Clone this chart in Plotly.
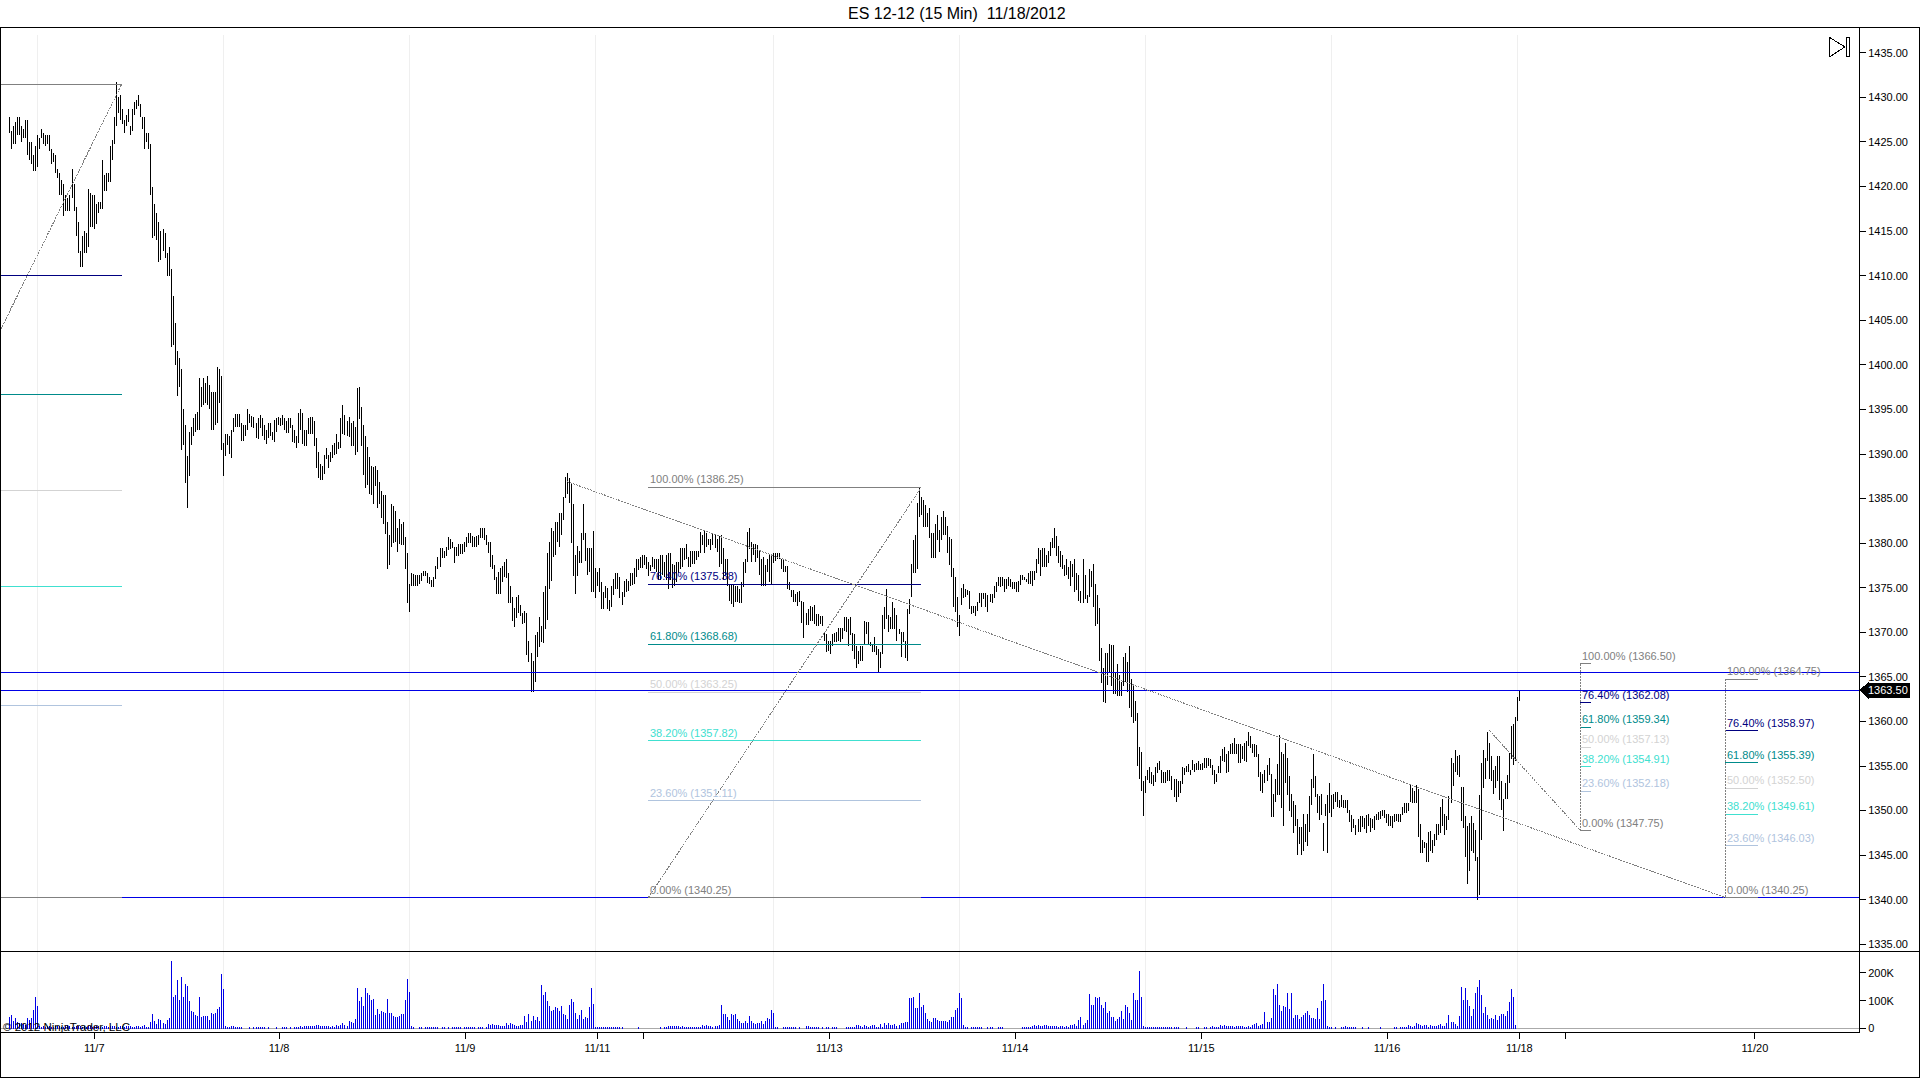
import plotly.graph_objects as go

TITLE = "ES 12-12 (15 Min)\u00a0\u00a011/18/2012"

# bar highs and lows in five stretches
HIGH_A = [1427.75,1426.25,1426.75,1427.25,1427.75,1427.75,1426.75,1426.5,1427.5,1427.5,1425,1425,1423.5,1424.5,1425.75,1425.5,1426.5,1426,1425.75,1425.75,
1425.75,1424.25,1423.75,1423.5,1422,1421.5,1420.75,1420.25,1419,1418.75,1419,1422,1420.25,1417.75,1416,1412.75,1414.5,1415,1414.75,1419.75,
1419.25,1419,1419,1418,1418.25,1418.25,1423,1421.25,1421.5,1421.5,1424.5,1425.25,1427.75,1431.75,1430,1430.25,1428.75,1427.5,1428,1428.75,
1426.75,1428.75,1429.5,1429.75,1430.25,1429.25,1427.75,1427.75,1426,1426,1424.75,1420,1418,1417,1416,1415,1415.25,1414.75,1412.5,
1413.25,1410.75,1407.75,1404.75,1401.5,1400.75,1399.5,1395,1393.25,1389.75,1392.5,1393,1394,1394.5,1394.75,1398.5,1397.5,1398.5,1398,1398.75,
1397.75,1397,1397,1397,1399.75,1399.5,1398.75,1391.25,1392.25,1392.25,1392,1392.75,1394,1394.5,1394.5,1394.5,1393.5,1393.25,1393.25,1395,
1394.5,1394.25,1394.2,1393.45,1394,1394.4,1394,1393.25,1392.7,1393.45,1393.45,1392.5,1393.85,1394,1394.2,1394,1394.4,1394,1393.65,1394,
1394,1393.25,1392.7,1392,1394.6,1395,1394.6,1392.7,1392.7,1394]
LOW_A = [1426,1424.25,1424.75,1424.75,1425.75,1425.75,1425,1425.5,1425.5,1423.5,1423,1422.5,1421.75,1421.75,1422.25,1424.25,1425.5,1424.75,1424.5,1424.75,
1424,1422.5,1422.75,1421.5,1421,1419,1419,1416.75,1417.25,1417.25,1417.25,1418.75,1417.25,1414.5,1412.5,1411,1411,1412.5,1412.5,1413.25,
1415.5,1415.5,1415.25,1415.75,1417,1417.5,1417.5,1419.5,1419.5,1420.5,1420.5,1423,1424.75,1426.75,1428.25,1427.5,1427,1426,1426.75,1427.25,
1425.75,1426.25,1428,1428.75,1429,1427.75,1426.5,1424.25,1425,1424.25,1419,1414.25,1414.5,1414,1411.5,1411.75,1412.75,1412,1410,
1410,1402,1402.25,1400,1396.5,1397.5,1390.5,1391,1386.75,1384,1387.5,1391,1392,1392.5,1392.75,1392.75,1395.25,1395.5,1395.75,1395.5,
1395,1392.75,1392.75,1393.25,1393.5,1395.75,1390.5,1387.5,1389.75,1391,1390,1389.5,1392.5,1393,1393,1393,1391.5,1391.5,1392,1392.75,
1393.5,1393,1392.95,1391.85,1391.65,1392.9,1392,1391.6,1391.1,1391.8,1392,1391.6,1391.3,1392.5,1393.25,1393.1,1393.2,1392.7,1392.35,1392.35,
1392.9,1391.4,1391.2,1390.65,1391.2,1392.7,1391.1,1390.85,1390.85,1392.2]

HIGH_B = [1394.2,1394.2,1393.7,1391.8,1390.2,1388.9,1388.7,1389.9,1390.7,1389.9,1390.2,1391,1391.2,1392.2,1391.4,1394,1395.45,1394.4,1393.65,1394.2,
1393.5,1393.65,1393,1397.35,1397.5,1395.25,1393.2,1392,1390.75,1389.7,1388.7,1388.5,1388.7,1388.25,1386.9,1385.8,1385.35,1385.4,1382.4,1380.9,
1384.4,1384.2,1383.65,1381.7,1382.75,1382.2,1382.4,1380.7,1378.9,1375.4,1376.65,1376.5,1376.4,1376.4,1376.4,1376.65,1376.9,1376.9,1376.65,1376.2,1375.9,
1376.2,1377.45,1378.45,1379.45,1379.45,1379.15,1379.6,1380.7,1380.45,1380.15,1379.6,1379.6,1379.9,1379.9,1379.9,1380.15,1380.7,1381.15,1381.15,1380.8,
1380.7,1380.8,1380.9,1381.7,1381.7,1381.7,1380.9,1380.15,1380.15,1378.65,1377.5,1376.2,1376.75,1377.2,1377.45,1377.9,1378.2,1376.65,1375.2,1374,
1372.7,1374,1374.15,1373.1,1372.2,1372.4,1372.2,1369.05,1367.65,1366.8,1369.65,1370,1371.7,1370.7,1374.5,1375.2,1378.9,1380.15,1381.7,1381.4,
1382.4,1382.4,1383.4,1383.4,1385.2,1387.45,1387.9,1387.35,1386.65,1384.4,1378.7,1379.7,1379.1,1381.15,1384.4,1381.15,1379.45,1379.45,1379.45,1381.4,
1377.2,1376.75,1377.2,1375.65,1374.5,1375.2,1375,1373.6,1375.2,1375.95,1376.6,1376.6,1376.2]
LOW_B = [1392.2,1392.2,1390.85,1388.4,1387.35,1387.1,1387.1,1387.8,1389.45,1388.4,1389.1,1389.6,1389.9,1390.05,1390.6,1390.65,1392.3,1392.15,1392.05,1391.95,
1390.85,1390.85,1389.9,1390.2,1393.9,1390.85,1387.6,1386.15,1386.5,1385.55,1385.35,1384.35,1386.45,1383.9,1384.35,1382.85,1382.1,1381.05,1377.15,1377.6,
1379.6,1380,1380.15,1379,1379.9,1379.8,1379.8,1377.15,1373.3,1372.25,1375.25,1375.25,1375.25,1375.25,1375.4,1375.8,1376.3,1376.3,1375.55,1375.4,1375.1,
1375.1,1375.95,1377.15,1377.35,1378.35,1378.35,1378.6,1379.2,1379.4,1379.5,1377.8,1378.6,1378.6,1378.8,1378.8,1379,1379.6,1380.05,1380.05,1379.6,
1379.6,1379.6,1379.85,1380.6,1380.6,1380.35,1379.85,1378.85,1377.35,1377.05,1375.85,1374.35,1374.35,1374.35,1375.65,1376.2,1376.1,1373.3,1373.3,1371.25,
1370.6,1371.6,1372.2,1371.8,1370.95,1371.05,1367.4,1366.7,1363.35,1363.35,1364.4,1367.2,1368.3,1368.9,1368.8,1370.4,1371.35,1374.9,1375.8,1378.45,
1378.65,1380.15,1379.6,1380.9,1382.65,1385.1,1385.5,1384.55,1380.05,1376.3,1374.35,1376.3,1377.8,1377.8,1380.35,1378.05,1376.4,1376.75,1374.5,1374.5,
1373.85,1375.25,1374.5,1372.6,1372.6,1373.85,1372.6,1372.35,1372.85,1374.2,1374.9,1374.9,1373.85]

HIGH_C = [1374.5,1375.75,1375.95,1375.8,1376.6,1376.7,1377.2,1378.2,1378.2,1378.45,1378.65,1378.65,1378.45,1377.9,1377.5,1378.45,1378.2,1378.25,1378.2,1378.7,
1378.7,1377.9,1378.7,1378.95,1378.85,1377.7,1377.6,1377.9,1377.9,1379.45,1379.45,1379.5,1379.95,1378.45,1379.15,1379.15,1379.15,1379.15,1379.15,1381.2,
1380.95,1381.35,1381.1,1380.45,1380.5,1381.1,1380.95,1380.5,1380.8,1380.95,1379.45,1378.25,1378.2,1375.45,1375.35,1375.35,1375.25,1375.25,1374.9,1375.65,
1377.9,1378.2,1381.25,1381.7,1380.15,1379.95,1379.95,1379.75,1379.15,1378.2,1378.45,1377.5,1378.2,1378.65,1378.65,1378.85,1378.95,1378.95,1378.9,1378.25,
1378.2,1377.45,1377.45,1375.65,1374.7,1374.7,1374.3,1374.5,1374.6,1373.55,1373.45,1372.2,1372.65,1373,1372.8,1373.1,1372.05,1372.05,1371.8,1371.8,
1369.95,1369.8,1369.05,1369.05,1369.8,1369.95,1370,1370.45,1370.45,1370.45,1371.7,1371.7,1371.5,1371.7,1369.95,1369.8,1368.5,1367.95,1368.5,1368.5,
1371.3,1371.2,1371.15,1368.9,1368.7,1369.45,1368.5,1368.15,1367.75,1371.9,1372.8,1374.9,1371.9,1371.7,1373.4,1372.7,1371.9,1370.4,1370,1370,
1369.05,1372.65,1373.75,1377.7,1380.3,1380.9,1384.45,1386.15,1385.2,1384.85,1384.25,1383.35,1383.9]
LOW_C = [1373.1,1373.95,1374.5,1374.6,1375.25,1375.35,1375.45,1376.2,1376.95,1377.2,1377.2,1377.5,1377.05,1376.3,1376.85,1377.35,1377.15,1376.75,1375.85,1375.85,
1376.4,1376.2,1375.85,1374.9,1375.85,1375,1375.2,1375.65,1376.6,1377.05,1377.35,1378.1,1378.2,1377.35,1377.35,1377.7,1377.7,1378.1,1378.45,1378.95,
1379.75,1378.85,1379.6,1379.75,1379.2,1379.85,1379.45,1379,1377.35,1377.7,1375.85,1376.4,1375.2,1373.55,1373.2,1372.8,1373.4,1373.4,1373.3,1373.3,
1375.1,1376.7,1377.9,1379.4,1377.9,1378.7,1377.9,1378.35,1376.4,1375.25,1375.25,1375.25,1376.75,1375.65,1375.45,1377.8,1377.95,1378.2,1378.2,1377.05,
1376.75,1376.75,1374.9,1374.8,1373.95,1373.45,1373.45,1373,1373.45,1371.05,1369.35,1370.85,1370.85,1371.3,1371.3,1370.95,1370.75,1370.7,1370.95,1370.7,
1369.05,1367.75,1367.95,1367.55,1368.5,1368.9,1368.9,1369.05,1368.9,1369.25,1370.2,1370,1368.5,1369.65,1367.95,1367,1366.05,1366.45,1366.8,1366.8,
1368.6,1369.8,1368.6,1368.5,1367.75,1367.75,1367.4,1365.5,1366.05,1367.55,1370.4,1371.5,1370,1370.4,1370.4,1370.4,1369.05,1369.8,1367.2,1368.9,
1367.1,1366.75,1372.05,1373.95,1376.6,1376.6,1377.05,1382.95,1383.15,1381.85,1381.85,1381.85,1380.6]

HIGH_D = [1381.15,1381.15,1382.2,1383.2,1381.45,1382.95,1383.65,1382.95,1381.95,1380.7,1380.5,1377.2,1376.2,1373.95,1371.9,1375,1375.4,1374.9,1374.7,1374.6,
1372.95,1372.95,1372.95,1373.4,1374.4,1374.4,1374.4,1374.4,1374.15,1374.3,1374.3,1375.2,1375.65,1376.2,1376.2,1376.2,1375.95,1376,1376.2,
1375.95,1375.65,1375.65,1375.65,1375.7,1376.4,1376.4,1376.2,1376,1376.7,1376.85,1376.85,1376.85,1378.2,1379.45,1379.2,1379.45,1379.45,1378.7,1379.15,
1380.15,1380.6,1381.7,1380.8,1379.65,1379.15,1378.65,1377.6,1378.2,1377.35,1377.95,1377.7,1378.2,1376.6,1376.4,1374.6,1378.2,1376.4,1374.15,1377.15,
1376.85,1377.7,1375.45,1374.15,1372.7,1368.2,1365.95,1367.7,1367.65,1368.7,1368.6,1368.6,1365.6,1366.45,1365.2,1364.4,1367.2,1367.7,1366.65,1368.45,
1364.75,1364,1362.3,1360.9,1357.15,1356.6,1353.3,1353.85,1354.55,1354.9,1354.3,1354.05,1354.9,1355.35,1355.55,1354.55,1354.3,1354.3,1354.6,1354.55,
1353.85,1353.55,1353.55,1353.3,1353.3,1354.9,1354.8,1355.05,1355.2,1354.6,1355.65,1355.2,1355.35,1355.55,1355.2,1355.35,1355.95,1355.95,1355.95,1355.75,
1355.15,1354.6,1354.1,1355.05,1356.1,1356.95,1357.15,1356.4,1356.7,1357.45,1357.6,1358.2,1357.45,1357.45,1357.45]
LOW_D = [1378.35,1378.35,1378.35,1380.35,1379,1380.35,1380.95,1380.9,1378.85,1377.6,1376.2,1372.8,1372.25,1370.55,1369.55,1373.1,1373.85,1373.95,1374.15,1372.65,
1372.05,1372.2,1371.8,1372.35,1373.3,1372.8,1373.75,1372.8,1372.25,1373.45,1373.3,1373.85,1374.5,1375.25,1375.1,1375.2,1374.5,1374.9,1375.2,
1375.1,1374.9,1374.9,1374.5,1374.5,1375.35,1375.85,1375.85,1375.65,1375.45,1375.45,1375.25,1375.85,1376.7,1377.7,1376.3,1377.35,1377.35,1377.35,1377.8,
1378.55,1379.45,1379.45,1378.55,1377.8,1377.35,1377.05,1376.3,1376.4,1376,1375.25,1376.2,1374.5,1374.8,1373.55,1373.3,1373.3,1373.75,1373.3,1373.95,
1375.1,1372.8,1370.75,1370.95,1366.75,1364.3,1362.2,1362.05,1364.05,1365.5,1364,1363.05,1363.05,1362.9,1362.9,1362.9,1364,1364.4,1363.3,1361.55,
1360.55,1359.8,1360.05,1355.05,1353.5,1352.15,1349.35,1352,1353.4,1353.1,1352.95,1352.8,1353.2,1354.25,1354.55,1353.1,1353.05,1353.1,1353.3,1353.3,
1352.3,1351.55,1351,1351.55,1352,1353,1354.05,1354.3,1354.3,1353.95,1354.6,1354.3,1354.6,1354.55,1354.55,1354.55,1354.8,1354.8,1355,1354.8,
1354.05,1353,1353.25,1354.25,1354.25,1355.55,1355.45,1354.25,1354.3,1356.3,1356.3,1356.3,1356.3,1355.3,1355.3]

HIGH_E = [1357.2,1357.6,1357.8,1358.85,1358.4,1357.45,1357.45,1357.35,1356.3,1354.35,1354.15,1354.6,1355.1,1355.95,1354.15,1351.9,1353.55,1355.2,1358.45,
1356.6,1356.4,1357.6,1355.95,1353.9,1351.9,1351.05,1350.6,1349.05,1348.15,1348.2,1349.65,1348.45,1349.65,1351.6,1353.55,1356.4,1353.85,1351.9,1351.6,
1351.9,1348.6,1350.7,1351.7,1353.1,1351.8,1351.9,1352.1,1352.1,1351.15,1351.7,1351.15,1351.15,1351.15,1350.1,1349.55,1349.05,1348.4,1349.05,1349.35,
1349.45,1349.15,1349.55,1349.65,1349.15,1349.05,1349.35,1349.65,1349.8,1349.95,1350.1,1350.1,1349.65,1349.65,1349.35,1349.45,1349.65,1349.65,
1349.65,1349.65,1350.4,1350.85,1350.85,1350.85,1352.95,1352.55,1352.2,1352.85,1352.45,1348.45,1346.65,1346.45,1346.35,1347.65,1347.75,1346.75,1347.4,1348.45,
1348.45,1350.4,1351.3,1349.65,1349.35,1351.6,1355.95,1355.35,1356.8,1356.15,1356.2,1352.65,1352.65,1349.35,1348.25,1348.6,1349.35,1348.6,1347.85,1344.85,
1351.8,1355.35,1356.8,1355.95,1358.8,1357.6,1356.15,1354.55,1354.95,1356.15,1356.15,1353.3,1351.3,1353.1,1354.05,1356.5,1359.5,1359.7,1360.45,1362.7,1363.5]
LOW_E = [1355.75,1355.55,1355.5,1357.2,1357.05,1356.5,1356.05,1356.05,1353.8,1352.2,1352,1353.05,1353.3,1354.05,1349.3,1349.3,1350.95,1351.8,1351.8,
1350.3,1348.3,1353.1,1351.8,1350,1349.3,1347.5,1348.25,1345.05,1346.25,1345,1345.5,1346.45,1346.05,1347.65,1350.6,1352.5,1351.55,1349.75,1348.9,
1349.55,1345.5,1349.35,1345.25,1349.75,1349.3,1350.2,1350.95,1350.4,1350.3,1350.4,1350.3,1350.3,1349.75,1348.7,1347.65,1348.05,1347.3,1347.65,1347.65,
1348.15,1347.95,1347.5,1348.25,1347.55,1348.05,1347.85,1349,1348.9,1349.05,1349.35,1349.15,1348.6,1348.3,1348.25,1348.05,1348.7,1348.8,
1348.75,1348.75,1349.55,1349.75,1349.75,1349.95,1350.95,1350.85,1350.8,1350.8,1347.05,1345.25,1345.25,1345.8,1344.2,1344.2,1345.45,1345.25,1346.05,1346.75,
1347.3,1347.5,1348.3,1347.3,1347.85,1348.9,1350.85,1352.8,1354.3,1353.95,1353.8,1348.8,1348.1,1344.85,1341.8,1343.2,1345.45,1345.25,1344.3,1340,
1340.55,1346.75,1352.55,1353.5,1355.55,1353.5,1353.3,1351.9,1352.55,1353.3,1351.15,1350.05,1347.75,1351.25,1351.3,1353.1,1355.75,1355.15,1355.55,1360.05,1362.3]

# volume in thousands, session by session
VOLUME_A = [41,48,27,38,24,20,20,16,13,38,31,38,66,115,80,8,6,9,7,10,8,6,7,9,11,8,7,6,8,12,9,7,6,8,10,9,7,8,6,9,8,7,9,10,8,6,7,9,8,7,8,9,8,6,7,8,9,7,8,9,8,7,6,8,9,7,8,
14,6,7,24,52,27,16,34,31,20,16,31,38,242,112,122,175,101,186,115,161,154,98,62,59,48,45,115,41,45,45,45,31,55,52,55,69,76,196,143,9,5,6,8,9,5,5,5,5,0,0,0,5,0,5,5,5,5,5,5,0,5,0,0,0,5,0,0,5,5,5,0,5,0,5,5,6,8,5,11,11,9,9,8,8,14,13,11,10,9,9,9,6,9,6,12,9,12,20,12,9,26,23,20,34,
147,98,112,80,147,129,119,101,105,48,69,52,62,59,55,105,55,55,45,41,41,45,52,52,101,179,133,9,5,0,0,5,5,0,5,5,5,5,5,5,5,0,5,5,0,5,0,5,5,5,5,5,0,5,5,5,5,5,5,0,5,5,5,0,5,16,13,16,13,13]
VOLUME_B = [12,8,8,8,19,13,19,15,12,9,9,12,12,45,24,52,27,45,31,41,27,158,122,133,98,80,62,66,76,73,62,80,52,48,34,83,105,94,55,34,48,66,34,41,38,76,147,87,5,5,5,5,5,5,5,5,5,5,5,5,5,5,
0,0,0,0,0,0,0,5,0,0,0,0,0,0,0,0,0,0,5,0,5,5,8,8,8,10,8,8,5,8,5,5,5,5,5,5,5,5,5,12,8,12,8,8,5,8,8,12,83,52,52,41,31,52,48,52,36,26,20,19,26,19,45,26,20,15,19,19,26,15,26,38,36,66,55,5,5,0,0,5,5,5,5,5,5,5,0,5,0,0,9,9,5,5,5,5,5,0,5,0,5,5,0,5,5,5,0,0,0,0,5,5,5,5,5,12,12,9,5,12,9,5,9,12,12,5,5,15,5,20,14,19,12,12,15,8,12,20,20,23,23,
108,108,115,73,73,126,76,83,55,34,26,23,38,38,31,26,26,26,26,23,31,40,40,66,73,129,108,12,5,5,0,5,5,5,5,5,5,0,0,5,5,5,0,0,5,5,5,0,0,0,0,0,0,0,0,0]
VOLUME_C = [5,5,5,5,5,9,12,8,12,9,9,12,12,8,8,8,8,8,5,8,8,5,8,5,12,12,15,8,31,41,13,19,31,123,83,83,115,108,115,83,73,94,55,62,41,41,26,34,41,62,34,83,76,55,31,126,101,101,207,115,9,5,5,5,5,5,5,5,5,5,5,5,5,5,5,5,5,5,
0,0,0,5,0,0,0,0,5,5,0,0,5,5,0,5,8,5,5,5,12,9,12,9,9,9,9,5,8,8,8,8,5,5,8,5,12,15,19,9,12,15,58,23,23,38,143,122,161,83,62,80,76,126,69,129,38,48,48,34,41,48,55,62,48,38,38,34,73,34,98,161,101,9,5,5,0,5,0,0,5,5,9,5,5,5,5,5,0,0,5,0,0,5,0,0,0,0,0,5,0,0,0,0,0,0,5,5,0,5,5,5,5,12,8,5,8,20,15,12,9,12,12,5,12,8,8,8,12,15,9,8,20,48,23,23,15,9,45,150,101,147,101,80,45,69,126,150,175,122,55,76,48,34,38,34,48,31,45,52,52,45,62,94,143,113,12]

PRICE_TICKS = [1335,1340,1345,1350,1355,1360,1365,1370,1375,1380,1385,1390,1395,1400,1405,1410,1415,1420,1425,1430,1435]
VOLUME_TICKS = [0,100,200]
VOLUME_TICK_TEXT = ["0","100K","200K"]

DATE_TICK_BARS = [42,133.4,225.4,290.8,313.5,405.5,497.4,589.5,681.4,746.8,769.8,863.3]
DATE_TICK_TEXT = ["11/7","11/8","11/9","11/11","","11/13","11/14","11/15","11/16","11/18","","11/20"]
SESSION_BREAKS = [14,106,198,290,378,470,562,654,746]

# blue price lines across the chart
LEVEL_LINES = [1365.5,1363.5,1340.25]
LAST_PRICE = 1363.5

FIB_NAMES = ["100.00%","76.40%","61.80%","50.00%","38.20%","23.60%","0.00%"]
FIB_COLORS = ["#808080","#000080","#008b8b","#d3d3d3","#40e0d0","#b0c4de","#808080"]
FIB_A = [1431.5,1409.97,1396.64,1385.88,1375.11,1361.79,1340.25]
FIB_B = [1386.25,1375.38,1368.68,1363.25,1357.82,1351.11,1340.25]
FIB_C = [1366.5,1362.08,1359.34,1357.13,1354.91,1352.18,1347.75]
FIB_D = [1364.75,1358.97,1355.39,1352.50,1349.61,1346.03,1340.25]
FIB_SPANS = [(-4.2,55.6),(316,451),(777,782.2),(848.5,865)]

# dashed trend lines, (bar, price) ends
TREND_LINES = [((-4.2,1404),(55.6,1431.5)),
               ((276,1386.9),(848.5,1340.25)),
               ((316,1340.25),(451,1386.25)),
               ((732,1359),(777,1347.75))]


def px_x(p):
    return p/1920

def px_y(p):
    return 1-p/1079

def stems(xs, bottoms, tops):
    out_x, out_y = [], []
    for x, b, t in zip(xs, bottoms, tops):
        out_x += [x, x, None]
        out_y += [b, t, None]
    return out_x, out_y


highs = HIGH_A+HIGH_B+HIGH_C+HIGH_D+HIGH_E
lows = LOW_A+LOW_B+LOW_C+LOW_D+LOW_E
assert len(highs) == len(lows), (len(HIGH_A),len(LOW_A),len(HIGH_B),len(LOW_B),len(HIGH_C),len(LOW_C),len(HIGH_D),len(LOW_D),len(HIGH_E),len(LOW_E))
volume = VOLUME_A+VOLUME_B+VOLUME_C
bars = list(range(len(highs)))

fig = go.Figure()

# price bars first, lines go over them
bx, by = stems(bars, lows, highs)
fig.add_trace(go.Scatter(x=bx, y=by, mode="lines", line=dict(color="#000000", width=1), hoverinfo="skip"))

vx, vy = stems(list(range(len(volume))), [0]*len(volume), volume)
fig.add_trace(go.Scatter(x=vx, y=vy, mode="lines", line=dict(color="#0000e6", width=1), hoverinfo="skip", xaxis="x2", yaxis="y2"))

x_range = [(1-9.33)/2.022, (1859-9.33)/2.022]
for lvl in LEVEL_LINES:
    fig.add_trace(go.Scatter(x=x_range, y=[lvl, lvl], mode="lines", line=dict(color="#0000e6", width=1), hoverinfo="skip"))

for prices, span in zip([FIB_A, FIB_B, FIB_C, FIB_D], FIB_SPANS):
    for price, color in zip(prices, FIB_COLORS):
        fig.add_trace(go.Scatter(x=list(span), y=[price, price], mode="lines", line=dict(color=color, width=1), hoverinfo="skip"))

for start, end in TREND_LINES:
    fig.add_trace(go.Scatter(x=[start[0], end[0]], y=[start[1], end[1]], mode="lines",
                             line=dict(color="#808080", width=1, dash="2px,1px"), hoverinfo="skip"))

# uprights of the two right hand fibs
for prices, span in [(FIB_C, FIB_SPANS[2]), (FIB_D, FIB_SPANS[3])]:
    fig.add_trace(go.Scatter(x=[span[0], span[0]], y=[prices[0], prices[-1]], mode="lines",
                             line=dict(color="#808080", width=1, dash="2px,1px"), hoverinfo="skip"))

annotations = []
for prices, span in [(FIB_B, FIB_SPANS[1]), (FIB_C, FIB_SPANS[2]), (FIB_D, FIB_SPANS[3])]:
    for name, price, color in zip(FIB_NAMES, prices, FIB_COLORS):
        annotations.append(dict(x=span[0], y=price, xref="x", yref="y", text=f"{name} ({price:.2f})",
                                showarrow=False, xanchor="left", yanchor="bottom", font=dict(color=color, size=11)))

annotations.append(dict(x=px_x(957), y=px_y(13.5), xref="paper", yref="paper", text=TITLE, showarrow=False,
                        xanchor="center", yanchor="middle", font=dict(size=16, color="#000000")))
annotations.append(dict(x=px_x(1), y=px_y(1029), xref="paper", yref="paper", text="\u00a9 2012 NinjaTrader, LLC",
                        showarrow=False, xanchor="left", yanchor="middle", font=dict(size=11.5, color="#000000")))
annotations.append(dict(x=px_x(1888), y=LAST_PRICE, xref="paper", yref="y", text=f"{LAST_PRICE:.2f}", showarrow=False,
                        xanchor="center", yanchor="middle", bgcolor="#000000", font=dict(size=11, color="#ffffff"), borderpad=1))

shapes = []
for b in SESSION_BREAKS:
    shapes.append(dict(type="line", xref="x", yref="paper", x0=b, x1=b, y0=px_y(1031), y1=px_y(35),
                       line=dict(color="#efefef", width=1), layer="below"))
# frame and the pane divider
shapes.append(dict(type="rect", xref="paper", yref="paper", x0=px_x(0.5), x1=px_x(1919.5), y0=px_y(1079.5), y1=px_y(27.5),
                   line=dict(color="#000000", width=1)))
shapes.append(dict(type="line", xref="paper", yref="paper", x0=px_x(0.5), x1=px_x(1919.5), y0=px_y(953.5), y1=px_y(953.5),
                   line=dict(color="#000000", width=1)))
# go-to-end button
shapes.append(dict(type="path", xref="paper", yref="paper",
                   path=f"M {px_x(1829.5)},{px_y(37.5)} L {px_x(1845)},{px_y(47)} L {px_x(1829.5)},{px_y(57)} Z",
                   line=dict(color="#000000", width=1)))
shapes.append(dict(type="rect", xref="paper", yref="paper", x0=px_x(1846.5), x1=px_x(1849.5), y0=px_y(57), y1=px_y(37.5),
                   line=dict(color="#000000", width=1)))
# point of the last price tag
shapes.append(dict(type="path", xref="paper", yref="y",
                   path=f"M {px_x(1860)},{LAST_PRICE} L {px_x(1868)},{LAST_PRICE+0.8} L {px_x(1868)},{LAST_PRICE-0.8} Z",
                   fillcolor="#000000", line=dict(color="#000000", width=1)))

fig.update_layout(
    width=1920, height=1079, autosize=False,
    margin=dict(l=0, r=0, t=0, b=0),
    paper_bgcolor="#ffffff", plot_bgcolor="#ffffff",
    showlegend=False, hovermode=False,
    font=dict(family="Liberation Sans", size=11, color="#000000"),
    xaxis=dict(domain=[px_x(1), px_x(1859)], range=x_range, showticklabels=False, showgrid=False, zeroline=False, ticks=""),
    yaxis=dict(domain=[px_y(953.5), px_y(27.5)], range=[1334.17, 1437.85], side="right", anchor="x",
               tickmode="array", tickvals=PRICE_TICKS, ticktext=[f"{t:.2f}" for t in PRICE_TICKS],
               showline=True, linecolor="#000000", linewidth=1, ticks="outside", ticklen=6, tickcolor="#000000",
               showgrid=False, zeroline=False),
    xaxis2=dict(domain=[px_x(1), px_x(1859)], range=x_range, anchor="y2",
                tickmode="array", tickvals=DATE_TICK_BARS, ticktext=DATE_TICK_TEXT,
                showline=True, linecolor="#000000", linewidth=1, ticks="outside", ticklen=6, tickcolor="#000000",
                showgrid=False, zeroline=False),
    yaxis2=dict(domain=[px_y(1034), px_y(953.5)], range=[-12.4, 275.6], side="right", anchor="x2",
                tickmode="array", tickvals=VOLUME_TICKS, ticktext=VOLUME_TICK_TEXT,
                showline=True, linecolor="#000000", linewidth=1, ticks="outside", ticklen=6, tickcolor="#000000",
                showgrid=False, zeroline=True, zerolinecolor="#aaaaaa", zerolinewidth=1),
    annotations=annotations,
    shapes=shapes,
)

fig.write_html("out.html", config={"displayModeBar": False},
               post_script="document.documentElement.style.overflow='hidden';document.body.style.margin='0';document.body.style.overflow='hidden';document.body.style.height='1079px';document.querySelectorAll('.main-svg').forEach(function(s){s.style.shapeRendering='crispEdges';});")
